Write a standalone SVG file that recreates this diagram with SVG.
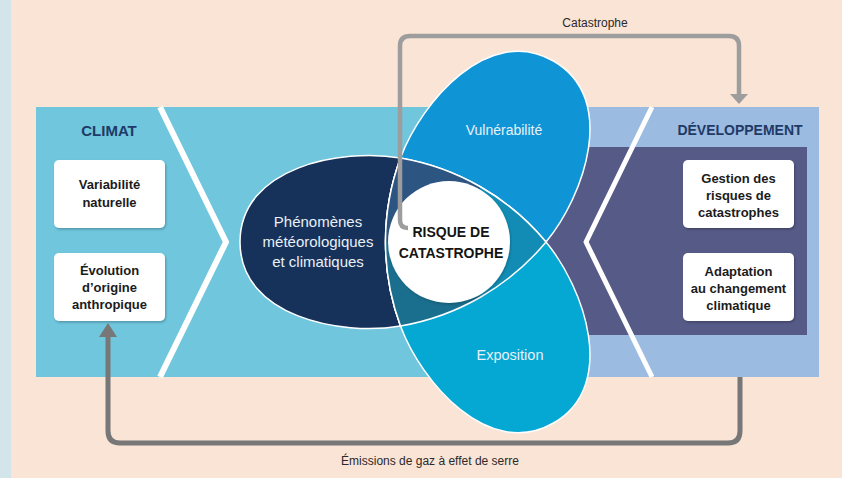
<svg xmlns="http://www.w3.org/2000/svg" width="842" height="478" viewBox="0 0 842 478">
<defs>
<style>
.bx{fill:#fff;filter:url(#sh)}
.bt{font-family:'Liberation Sans',Arial,sans-serif;font-weight:bold;font-size:13px;fill:#1b1b1b;text-anchor:middle}
.hd{font-family:'Liberation Sans',Arial,sans-serif;font-weight:bold;fill:#1f3a66;text-anchor:middle}
.pt{font-family:'Liberation Sans',Arial,sans-serif;fill:#e9f0f7;text-anchor:middle}
.lb{font-family:'Liberation Sans',Arial,sans-serif;font-size:12px;fill:#2a2a2a;text-anchor:middle}
.rk{font-family:'Liberation Sans',Arial,sans-serif;font-weight:bold;font-size:14px;fill:#141414;text-anchor:middle}
.petal{stroke:#fff;stroke-width:1.5}
.chev{fill:none;stroke:#fff;stroke-linejoin:round}
</style>
<filter id="sh" x="-10%" y="-10%" width="130%" height="130%"><feDropShadow dx="1" dy="1.5" stdDeviation="1.2" flood-color="#000" flood-opacity="0.25"/></filter>
<filter id="csh" x="-20%" y="-20%" width="140%" height="140%"><feDropShadow dx="1" dy="1.5" stdDeviation="1.2" flood-color="#000" flood-opacity="0.2"/></filter>
<path id="petal" d="M97,0 A242.7,242.7 0 0 0 -48.5,-84 C-107.7,-94.1 -209,-75 -209,0 C-209,75 -107.7,94.1 -48.5,84 A242.7,242.7 0 0 0 97,0 Z"/>
<clipPath id="tri"><path d="M546,242 A242.7,242.7 0 0 0 400.5,158 A242.7,242.7 0 0 0 400.5,326 A242.7,242.7 0 0 0 546,242 Z"/></clipPath>
<marker id="ahT" viewBox="0 -9 10 18" markerWidth="10" markerHeight="18" refX="0" refY="0" orient="auto" markerUnits="userSpaceOnUse"><polygon points="0,-9 10,0 0,9" fill="#9d9d9d"/></marker>
<marker id="ahB" viewBox="0 -9 14 18" markerWidth="14" markerHeight="18" refX="0" refY="0" orient="auto" markerUnits="userSpaceOnUse"><polygon points="0,-9 14,0 0,9" fill="#777"/></marker>
</defs>

<rect width="842" height="478" fill="#fae4d6"/>
<rect width="11" height="478" fill="#d3e5eb"/>

<g id="bands">
<rect x="36" y="107" width="490" height="270" fill="#6fc6dd"/>
<rect x="520" y="107" width="299" height="270" fill="#9bbbe1"/>
<rect x="520" y="147" width="287" height="188" fill="#565a87"/>
<polyline class="chev" points="160,107 226,242 160,377" stroke-width="6"/>
<polyline class="chev" points="652,107 586,242 652,377" stroke-width="5"/>
</g>

<g id="climat">
<text class="hd" x="109" y="136" font-size="15">CLIMAT</text>
</g>
<g id="developpement">
<text class="hd" x="740" y="135" font-size="14">DÉVELOPPEMENT</text>
</g>

<g id="variabilite">
<rect class="bx" x="54" y="160" width="111" height="68" rx="5"/>
<text class="bt" x="109.5" y="189">Variabilité</text>
<text class="bt" x="109.5" y="207">naturelle</text>
</g>
<g id="evolution">
<rect class="bx" x="54" y="253" width="111" height="68" rx="5"/>
<text class="bt" x="109.5" y="275">Évolution</text>
<text class="bt" x="109.5" y="292">d’origine</text>
<text class="bt" x="109.5" y="309">anthropique</text>
</g>
<g id="gestion">
<rect class="bx" x="683" y="160" width="111" height="68" rx="5"/>
<text class="bt" x="738.5" y="183">Gestion des</text>
<text class="bt" x="738.5" y="200">risques de</text>
<text class="bt" x="738.5" y="217">catastrophes</text>
</g>
<g id="adaptation">
<rect class="bx" x="683" y="253" width="111" height="68" rx="5"/>
<text class="bt" x="738.5" y="276">Adaptation</text>
<text class="bt" x="738.5" y="293">au changement</text>
<text class="bt" x="738.5" y="310">climatique</text>
</g>

<g id="phenomenes">
<use href="#petal" class="petal" fill="#16325a" transform="translate(449,242)"/>
</g>
<g id="vulnerabilite">
<use href="#petal" class="petal" fill="#0f95d5" transform="translate(449,242) rotate(120)"/>
</g>
<g id="exposition">
<use href="#petal" class="petal" fill="#05a8d3" transform="translate(449,242) rotate(-120)"/>
</g>
<g id="overlap" clip-path="url(#tri)">
<polygon points="449,242 149,242 149,-18 599,-18" fill="#2d5582"/>
<polygon points="449,242 599,-18 800,-18 800,502 599,502" fill="#128cb4"/>
<polygon points="449,242 599,502 149,502 149,242" fill="#1a6e8e"/>
</g>
<path d="M546,242 A242.7,242.7 0 0 0 400.5,158 A242.7,242.7 0 0 0 400.5,326 A242.7,242.7 0 0 0 546,242 Z" fill="none" stroke="#fff" stroke-width="1.5"/>

<g id="risque">
<circle cx="449" cy="242" r="61" fill="#fff" filter="url(#csh)"/>
</g>

<g id="connectors" fill="none">
<path d="M408,228 Q400,228 400,220 L400,46 Q400,36 410,36 L729,36 Q739,36 739,46 L739,94" stroke="#9d9d9d" stroke-width="4.5" marker-end="url(#ahT)"/>
<path d="M740,377 L740,431 Q740,443 728,443 L120,443 Q108,443 108,431 L108,337" stroke="#777" stroke-width="5" marker-end="url(#ahB)"/>
</g>

<g id="labels">
<text class="pt" x="318" y="227" font-size="15">Phénomènes</text>
<text class="pt" x="318" y="247" font-size="15">météorologiques</text>
<text class="pt" x="318" y="267" font-size="15">et climatiques</text>
<text class="pt" x="504" y="135" font-size="14">Vulnérabilité</text>
<text class="pt" x="510" y="360" font-size="14.5">Exposition</text>
<text class="rk" x="451" y="237">RISQUE DE</text>
<text class="rk" x="451" y="258">CATASTROPHE</text>
<text class="lb" x="595" y="27">Catastrophe</text>
<text class="lb" x="430" y="465">Émissions de gaz à effet de serre</text>
</g>
</svg>
